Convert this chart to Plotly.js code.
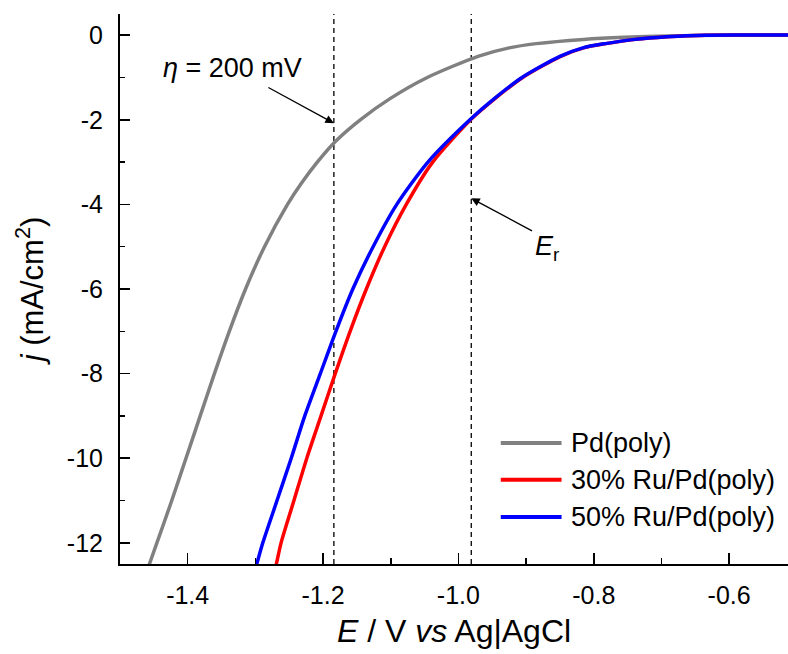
<!DOCTYPE html>
<html>
<head>
<meta charset="utf-8">
<script src="https://cdn.plot.ly/plotly-3.0.1.min.js"></script>
<style>html,body{margin:0;padding:0;background:#fff;}#chart{width:788px;height:654px;}</style>
</head>
<body>
<div id="chart"></div>
<script>
// ---- data (E in V vs Ag|AgCl, j in mA/cm2) ----
const seriesNames = ["Pd(poly)", "30% Ru/Pd(poly)", "50% Ru/Pd(poly)"];
const seriesColors = ["#808080", "#ff0000", "#0000ff"];

const pdE = [-1.4675, -1.4565, -1.4455, -1.4235, -1.4025, -1.3815, -1.3605, -1.3385, -1.3145, -1.2865, -1.2525, -1.232, -1.2085, -1.181, -1.145, -1.101, -1.046, -0.971, -0.925, -0.885, -0.815, -0.755, -0.690, -0.615, -0.500];
const pdJ = [-13, -12.5, -12, -11, -10, -9, -8, -7, -6, -5, -4, -3.5, -3, -2.5, -2, -1.5, -1, -0.5, -0.3, -0.2, -0.1, -0.05, -0.02, 0, 0];

const ru30E = [-1.277, -1.269, -1.262, -1.243, -1.224, -1.203, -1.182, -1.160, -1.136, -1.109, -1.077, -1.038, -0.982, -0.946, -0.905, -0.849, -0.815, -0.782, -0.738, -0.691, -0.634, -0.500];
const ru30J = [-13, -12.5, -12, -11, -10, -9, -8, -7, -6, -5, -4, -3, -2, -1.5, -1, -0.5, -0.3, -0.2, -0.1, -0.04, 0, 0];

const ru50E = [-1.308, -1.298, -1.289, -1.268, -1.247, -1.227, -1.204, -1.181, -1.156, -1.126, -1.091, -1.045, -0.983, -0.947, -0.906, -0.850, -0.816, -0.783, -0.739, -0.692, -0.635, -0.500];
const ru50J = [-13, -12.5, -12, -11, -10, -9, -8, -7, -6, -5, -4, -3, -2, -1.5, -1, -0.5, -0.3, -0.2, -0.1, -0.04, 0, 0];

// reference potentials: eta = 200 mV line and E_r line
const refLinesE = [-1.184, -0.981];

// ticks
const xTickVals = [-1.4, -1.2, -1.0, -0.8, -0.6];
const xTickText = ["-1.4", "-1.2", "-1.0", "-0.8", "-0.6"];
const xMinorVals = [-1.5, -1.3, -1.1, -0.9, -0.7];
const yTickVals = [0, -2, -4, -6, -8, -10, -12];
const yTickText = ["0", "-2", "-4", "-6", "-8", "-10", "-12"];
const yMinorVals = [-1, -3, -5, -7, -9, -11];

// ---- build ----
const FONT = "Liberation Sans, Arial, sans-serif";
const xs = [pdE, ru30E, ru50E];
const ys = [pdJ, ru30J, ru50J];
const traces = xs.map((x, i) => ({
  x: x, y: ys[i], type: "scatter", mode: "lines", name: seriesNames[i],
  line: {color: seriesColors[i], width: 3.5, shape: "spline", smoothing: 0.7},
  showlegend: false
}));

const shapes = refLinesE.map(e => ({
  type: "line", xref: "x", yref: "paper", x0: e, x1: e, y0: 0, y1: 1,
  line: {color: "#000", width: 1.3, dash: "5px,4px"}, layer: "below"
}));

// manual legend (long line samples like the original)
const legRowsY = [0.22, 0.153, 0.0855];
seriesNames.forEach((n, i) => {
  shapes.push({type: "line", xref: "paper", yref: "paper", x0: 0.570, x1: 0.661,
    y0: legRowsY[i], y1: legRowsY[i], line: {color: seriesColors[i], width: 4}});
});
const annotations = seriesNames.map((n, i) => ({
  xref: "paper", yref: "paper", x: 0.672, y: legRowsY[i], xanchor: "left", yanchor: "middle",
  text: n, showarrow: false, font: {family: FONT, size: 27, color: "#000"}
}));

// eta label + arrow
annotations.push({xref: "paper", yref: "paper", x: 0.169, y: 0.902, xanchor: "center", yanchor: "middle",
  text: "<i>η</i> = 200 mV", showarrow: false, font: {family: FONT, size: 27, color: "#000"}});
annotations.push({xref: "x", yref: "y", x: refLinesE[0], y: -2.08, axref: "x", ayref: "y", ax: -1.283, ay: -1.218,
  text: "", showarrow: true, arrowhead: 2, arrowsize: 1.3, arrowwidth: 1.3, arrowcolor: "#000", standoff: 0, startstandoff: 0});
// E_r label + arrow
annotations.push({xref: "paper", yref: "paper", x: 0.619, y: 0.575, xanchor: "left", yanchor: "middle",
  text: "<i>E</i><sub>r</sub>", showarrow: false, font: {family: FONT, size: 27, color: "#000"}});
annotations.push({xref: "x", yref: "y", x: refLinesE[1], y: -3.856, axref: "x", ayref: "y", ax: -0.889, ay: -4.645,
  text: "", showarrow: true, arrowhead: 2, arrowsize: 1.3, arrowwidth: 1.3, arrowcolor: "#000", standoff: 0, startstandoff: 0});

const layout = {
  width: 788, height: 654,
  margin: {l: 120, r: 0, t: 14, b: 90},
  paper_bgcolor: "#fff", plot_bgcolor: "#fff",
  font: {family: FONT, color: "#000"},
  showlegend: false,
  xaxis: {
    range: [-1.5, -0.513], showgrid: false, zeroline: false,
    showline: true, linecolor: "#000", linewidth: 2,
    ticks: "inside", ticklen: 11, tickwidth: 1.6, tickcolor: "#000",
    tickmode: "array", tickvals: xTickVals, ticktext: xTickText,
    tickfont: {family: FONT, size: 25, color: "#000"},
    ticklabelstandoff: 8,
    minor: {ticks: "inside", ticklen: 6, tickwidth: 1.6, tickcolor: "#000", tickmode: "array", tickvals: xMinorVals, showgrid: false},
    title: {text: "<i>E</i> / V <i>vs</i> Ag|AgCl", font: {family: FONT, size: 32, color: "#000"}, standoff: 12}
  },
  yaxis: {
    range: [-12.5, 0.5], showgrid: false, zeroline: false,
    showline: true, linecolor: "#000", linewidth: 2,
    ticks: "inside", ticklen: 10, tickwidth: 1.6, tickcolor: "#000",
    tickmode: "array", tickvals: yTickVals, ticktext: yTickText,
    tickfont: {family: FONT, size: 25, color: "#000"},
    ticklabelstandoff: 10,
    minor: {ticks: "inside", ticklen: 5, tickwidth: 1.6, tickcolor: "#000", tickmode: "array", tickvals: yMinorVals, showgrid: false},
    title: {text: "<i>j</i> (mA/cm<sup>2</sup>)", font: {family: FONT, size: 31, color: "#000"}, standoff: 14}
  },
  shapes: shapes,
  annotations: annotations
};

Plotly.newPlot("chart", traces, layout, {displayModeBar: false, staticPlot: true});
</script>
</body>
</html>
